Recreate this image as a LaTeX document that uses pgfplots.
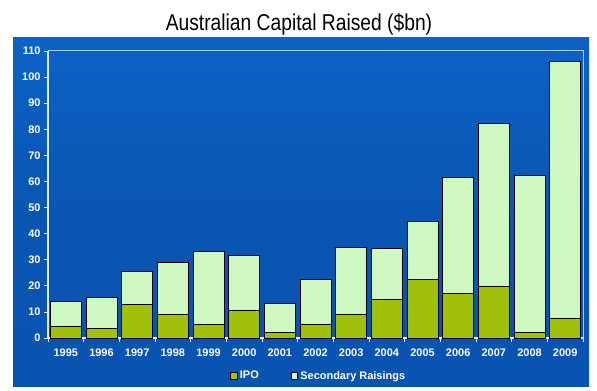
\documentclass[border=0pt]{standalone}
\usepackage{pgfplots}
\pgfplotsset{compat=1.18}
\usepackage{pgfplotstable}
\usepackage{graphicx}
\usepackage{fontspec}
\setmainfont{Liberation Sans}
\definecolor{panelA}{RGB}{12,98,198}
\definecolor{panelB}{RGB}{9,84,176}
\definecolor{ipo}{RGB}{160,192,10}
\definecolor{sec}{RGB}{206,248,192}
\definecolor{axlc}{RGB}{175,205,240}
\definecolor{axw}{RGB}{225,238,255}
\pgfplotstableread{
x ipo sec
0 4.3 9.7
1 3.8 11.8
2 13.0 12.5
3 9.2 19.9
4 5.1 28.1
5 10.5 21.1
6 2.3 10.8
7 5.2 17.4
8 9.1 25.7
9 14.7 19.6
10 22.6 21.9
11 17.0 44.5
12 19.8 62.3
13 2.3 59.8
14 7.4 98.7
}\datatable
\begin{document}
\begin{tikzpicture}[x=1bp,y=1bp]
\fill[white] (0,0) rectangle (597,390);
\shade[top color=panelA, bottom color=panelB, middle color=panelB!90!panelA] (13,4) rectangle (589,353);
\node[anchor=base] at (299,360) {\scalebox{0.84}[1]{\fontsize{23}{26}\selectfont Australian Capital Raised (\$bn)}};
\begin{axis}[
  at={(48bp,52bp)}, anchor=south west,
  scale only axis, width=535bp, height=287bp,
  ybar stacked, bar width=31bp,
  xmin=-0.5, xmax=14.5, ymin=0, ymax=110,
  xtick={0,...,14},
  xticklabels={1995,1996,1997,1998,1999,2000,2001,2002,2003,2004,2005,2006,2007,2008,2009},
  minor xtick={-0.5,0.5,...,14.5},
  ytick={0,10,...,110},
  xtick pos=left, ytick pos=left,
  tick align=outside,
  major x tick style={draw=none},
  minor tick length=4bp,
  major tick length=4bp,
  every tick/.style={color=axw, line width=0.8bp},
  axis line style={color=axlc, line width=1bp},
  /pgf/number format/assume math mode=true,
  ticklabel style={font=\fontsize{11}{13}\selectfont\bfseries, text=white},
  xticklabel style={yshift=-3bp},
  legend style={at={(0.506,-0.132)}, anchor=center, draw=none, fill=none,
    text=white, font=\fontsize{11}{13}\selectfont\bfseries,
    legend columns=2, /tikz/every even column/.append style={column sep=30bp}},
  legend image code/.code={\draw[#1, line width=1bp] (0bp,-3.3bp) rectangle (6.6bp,3.3bp);},
  clip=false,
]
\addplot[fill=ipo, draw=black, line width=1bp] table[x=x,y=ipo]{\datatable};
\addplot[fill=sec, draw=black, line width=1bp] table[x=x,y=sec]{\datatable};
\legend{IPO, Secondary Raisings}
\draw[axw, line width=1.2bp] (rel axis cs:0,1) -- (rel axis cs:0,0) -- (rel axis cs:1,0);
\end{axis}
\end{tikzpicture}
\end{document}
